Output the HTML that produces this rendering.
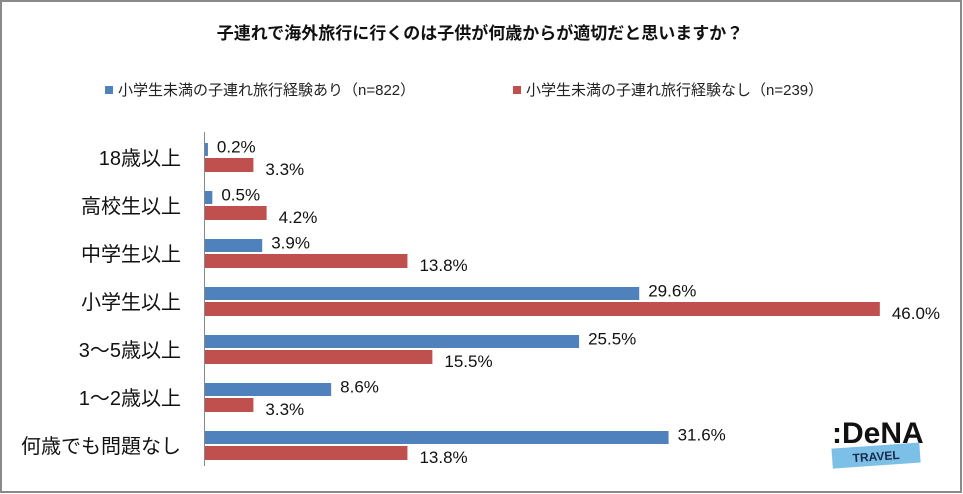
<!DOCTYPE html>
<html><head><meta charset="utf-8"><style>
body{margin:0;width:963px;height:494px;overflow:hidden;background:#fff}
svg{display:block;font-family:"Liberation Sans","Noto Sans CJK JP",sans-serif}
</style></head><body>
<svg width="963" height="494">
<rect x="1" y="1" width="960" height="491" fill="#fff" stroke="#8a8a8a" stroke-width="2"/>
<text x="480" y="39" text-anchor="middle" font-size="17" font-weight="bold" fill="#111">子連れで海外旅行に行くのは子供が何歳からが適切だと思いますか？</text>
<g>
<rect x="105" y="86" width="8" height="8" fill="#4f81bd"/>
<text x="118" y="95" font-size="15" fill="#222">小学生未満の子連れ旅行経験あり（n=822）</text>
<rect x="513" y="86" width="8" height="8" fill="#c0504d"/>
<text x="526" y="95" font-size="15" fill="#222">小学生未満の子連れ旅行経験なし（n=239）</text>
</g>
<g id="bars"></g>
<line x1="204.5" y1="132" x2="204.5" y2="466" stroke="#888" stroke-width="1"/>
<g>
<text x="832" y="443" font-size="30" font-weight="bold" fill="#111">:DeNA</text>
<g transform="rotate(-4 870 455)"><rect x="832" y="446" width="88" height="20" fill="#7cc0e8"/>
<text x="876" y="461" text-anchor="middle" font-size="12" font-weight="bold" fill="#1a2a4a">TRAVEL</text></g>
</g>
</svg>
<script>
const categories=["18歳以上","高校生以上","中学生以上","小学生以上","3～5歳以上","1～2歳以上","何歳でも問題なし"];
const seriesWith=[0.2,0.5,3.9,29.6,25.5,8.6,31.6];
const seriesWithout=[3.3,4.2,13.8,46.0,15.5,3.3,13.8];
const NS="http://www.w3.org/2000/svg";
const g=document.getElementById('bars');
const x0=205, xScale=v=>x0+v*14.67, yBand=i=>138+i*48;
function mk(tag,attrs){const e=document.createElementNS(NS,tag);for(const k in attrs)e.setAttribute(k,attrs[k]);g.appendChild(e);return e;}
categories.forEach((c,i)=>{
  const y=yBand(i);
  const t=mk('text',{x:181,y:y+27,'text-anchor':'end','font-size':20,fill:'#111'});t.textContent=c;
  
  
  [[seriesWith[i],'#4f81bd',5,13],[seriesWithout[i],'#c0504d',20,14]].forEach(([v,col,dy,h],s)=>{
    const r=mk('rect',{x:x0,y:y+dy,width:xScale(v)-x0,height:h,fill:col});
    
    
    const l=mk('text',{x:xScale(v)+(s?12:9),y:y+dy+h/2+(s?10:3),'font-size':17,fill:'#111'});
    l.textContent=v.toFixed(1)+'%';
    
    
  });
});
</script>
</body></html>
